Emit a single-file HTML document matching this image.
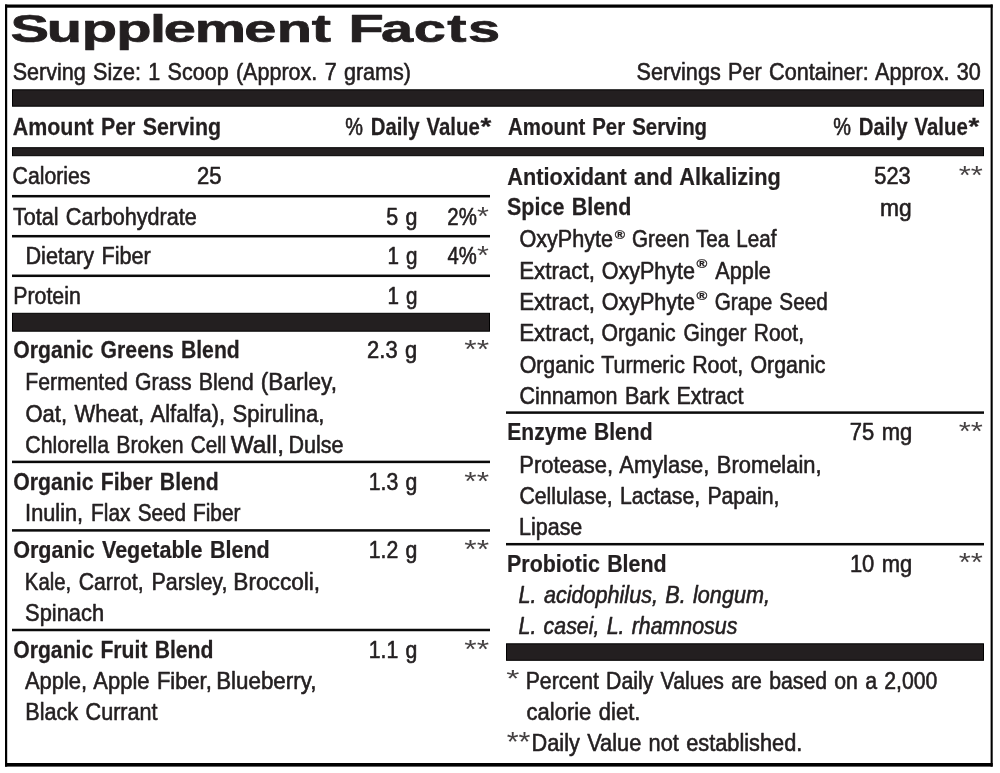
<!DOCTYPE html>
<html lang="en">
<head>
<meta charset="utf-8">
<title>Supplement Facts</title>
<style>
html,body{margin:0;padding:0;background:#fff;}
body{width:1000px;height:773px;overflow:hidden;font-family:"Liberation Sans", sans-serif;}
svg{display:block;}
text{font-family:"Liberation Sans", sans-serif;fill:#231f20;white-space:pre;}
</style>
</head>
<body>
<svg width="1000" height="773" viewBox="0 0 1000 773" role="img" aria-label="Supplement Facts">
<g fill="#000">
<rect x="5" y="4.5" width="987.7" height="3.2"/>
<rect x="5" y="763" width="987.7" height="3.6"/>
<rect x="5" y="4.5" width="2.2" height="762.1"/>
<rect x="990.6" y="4.5" width="2.1" height="762.1"/>
</g>
<g fill="#231f20" stroke="#000" stroke-width="1">
<rect x="12.5" y="89.8" width="971" height="16.4"/>
<rect x="12.5" y="147.7" width="971" height="8"/>
<rect x="12.5" y="313.3" width="477" height="17.9"/>
<rect x="506.5" y="643.8" width="477" height="16.5"/>
</g>
<g fill="#0a0a0a">
<rect x="12" y="194.95" width="478" height="2.5"/>
<rect x="12" y="234.95" width="478" height="2.5"/>
<rect x="12" y="274.55" width="478" height="2.5"/>
<rect x="12" y="460.65" width="478" height="2.5"/>
<rect x="12" y="529.15" width="478" height="2.5"/>
<rect x="12" y="628.75" width="478" height="2.5"/>
<rect x="506" y="411.35" width="478" height="2.5"/>
<rect x="506" y="542.95" width="478" height="2.5"/>
</g>

<g id="t" style="filter:blur(0.35px)">
<text transform="translate(0 42.30) scale(1.5000 1)" x="232.29 254.09 275.79 298.13 312.04" font-size="38.5" font-weight="700" stroke="#231f20" stroke-width="0.7" stroke-linejoin="round">Facts</text>
<text transform="translate(0 42.30) scale(1.5000 1)" x="6.96 31.24 54.45 77.45 99.95 109.19 129.82 162.83 184.56 207.90" font-size="38.5" font-weight="700" stroke="#231f20" stroke-width="0.7" stroke-linejoin="round">Supplement</text>
<text transform="translate(12.73 79.50) scale(0.8973 1.0000)" font-size="24.0" font-weight="400" stroke="#231f20" stroke-width="0.6" stroke-linejoin="round" word-spacing="1.5">Serving Size: 1 Scoop (Approx. 7 grams)</text>
<text transform="translate(636.62 79.50) scale(0.9014 1.0000)" font-size="24.0" font-weight="400" stroke="#231f20" stroke-width="0.6" stroke-linejoin="round" word-spacing="1.5">Servings Per Container: Approx. 30</text>
<text transform="translate(12.75 134.80) scale(0.8923 1.0000)" font-size="24.0" font-weight="400" stroke="#231f20" stroke-width="0.6" stroke-linejoin="round" word-spacing="1.5"><tspan font-weight="700" stroke-width="0.25">Amount Per Serving</tspan></text>
<text transform="translate(345.19 134.80) scale(0.8296 1.0000)" font-size="24.0" font-weight="400" stroke="#231f20" stroke-width="0.6" stroke-linejoin="round" word-spacing="1.5">%</text>
<text transform="translate(370.72 134.80) scale(0.8508 1.0000)" font-size="24.0" font-weight="400" stroke="#231f20" stroke-width="0.6" stroke-linejoin="round" word-spacing="1.5"><tspan font-weight="700" stroke-width="0.25">Daily Value</tspan></text>
<text transform="translate(480.50 135.27) scale(1.1568 1.0222)" font-size="24.0" font-weight="400" stroke="#231f20" stroke-width="0.6" stroke-linejoin="round" word-spacing="1.5"><tspan font-weight="700" stroke-width="0.25">*</tspan></text>
<text transform="translate(508.07 134.80) scale(0.8522 1.0000)" font-size="24.0" font-weight="400" stroke="#231f20" stroke-width="0.6" stroke-linejoin="round" word-spacing="1.5"><tspan font-weight="700" stroke-width="0.25">Amount Per Serving</tspan></text>
<text transform="translate(833.19 134.80) scale(0.8296 1.0000)" font-size="24.0" font-weight="400" stroke="#231f20" stroke-width="0.6" stroke-linejoin="round" word-spacing="1.5">%</text>
<text transform="translate(858.72 134.80) scale(0.8508 1.0000)" font-size="24.0" font-weight="400" stroke="#231f20" stroke-width="0.6" stroke-linejoin="round" word-spacing="1.5"><tspan font-weight="700" stroke-width="0.25">Daily Value</tspan></text>
<text transform="translate(968.50 135.27) scale(1.1568 1.0222)" font-size="24.0" font-weight="400" stroke="#231f20" stroke-width="0.6" stroke-linejoin="round" word-spacing="1.5"><tspan font-weight="700" stroke-width="0.25">*</tspan></text>
<text transform="translate(12.62 184.20) scale(0.8844 1.0000)" font-size="24.0" font-weight="400" stroke="#231f20" stroke-width="0.6" stroke-linejoin="round" word-spacing="1.5">Calories</text>
<text transform="translate(197.08 184.20) scale(0.9200 1.0000)" font-size="24.0" font-weight="400" stroke="#231f20" stroke-width="0.6" stroke-linejoin="round" word-spacing="1.5">25</text>
<text transform="translate(12.88 224.50) scale(0.8999 1.0000)" font-size="24.0" font-weight="400" stroke="#231f20" stroke-width="0.6" stroke-linejoin="round" word-spacing="1.5">Total Carbohydrate</text>
<text transform="translate(386.33 224.50) scale(0.8931 1.0000)" font-size="24.0" font-weight="400" stroke="#231f20" stroke-width="0.6" stroke-linejoin="round" word-spacing="1.5">5 g</text>
<text transform="translate(447.35 224.50) scale(0.8511 1.0000)" font-size="24.0" font-weight="400" stroke="#231f20" stroke-width="0.6" stroke-linejoin="round" word-spacing="1.5">2%</text>
<text transform="translate(476.96 224.90) scale(1.2706 1.0909)" font-size="24.0" font-weight="400" fill-opacity="0.85" word-spacing="1.5">*</text>
<text transform="translate(25.42 264.10) scale(0.9029 1.0000)" font-size="24.0" font-weight="400" stroke="#231f20" stroke-width="0.6" stroke-linejoin="round" word-spacing="1.5">Dietary Fiber</text>
<text transform="translate(387.46 263.80) scale(0.8594 1.0000)" font-size="24.0" font-weight="400" stroke="#231f20" stroke-width="0.6" stroke-linejoin="round" word-spacing="1.5">1 g</text>
<text transform="translate(447.59 263.80) scale(0.8441 1.0000)" font-size="24.0" font-weight="400" stroke="#231f20" stroke-width="0.6" stroke-linejoin="round" word-spacing="1.5">4%</text>
<text transform="translate(476.96 264.20) scale(1.2706 1.0909)" font-size="24.0" font-weight="400" fill-opacity="0.85" word-spacing="1.5">*</text>
<text transform="translate(13.25 304.40) scale(0.8877 1.0000)" font-size="24.0" font-weight="400" stroke="#231f20" stroke-width="0.6" stroke-linejoin="round" word-spacing="1.5">Protein</text>
<text transform="translate(387.46 304.20) scale(0.8594 1.0000)" font-size="24.0" font-weight="400" stroke="#231f20" stroke-width="0.6" stroke-linejoin="round" word-spacing="1.5">1 g</text>
<text transform="translate(13.22 357.90) scale(0.8843 1.0000)" font-size="24.0" font-weight="400" stroke="#231f20" stroke-width="0.6" stroke-linejoin="round" word-spacing="1.5"><tspan font-weight="700" stroke-width="0.25">Organic Greens Blend</tspan></text>
<text transform="translate(367.09 357.90) scale(0.9147 1.0000)" font-size="24.0" font-weight="400" stroke="#231f20" stroke-width="0.6" stroke-linejoin="round" word-spacing="1.5">2.3 g</text>
<text transform="translate(464.34 358.30) scale(1.3239 1.0909)" font-size="24.0" font-weight="400" fill-opacity="0.85" word-spacing="1.5">**</text>
<text transform="translate(25.35 389.80) scale(0.8839 1.0000)" font-size="24.0" font-weight="400" stroke="#231f20" stroke-width="0.6" stroke-linejoin="round" word-spacing="1.5">Fermented Grass</text>
<text transform="translate(198.74 389.80) scale(0.8940 1.0000)" font-size="24.0" font-weight="400" stroke="#231f20" stroke-width="0.6" stroke-linejoin="round" word-spacing="1.5">Blend</text>
<text transform="translate(260.82 389.80) scale(0.9415 1.0000)" font-size="24.0" font-weight="400" stroke="#231f20" stroke-width="0.6" stroke-linejoin="round" word-spacing="1.5">(Barley,</text>
<text transform="translate(25.41 421.85) scale(0.9179 1.0000)" font-size="24.0" font-weight="400" stroke="#231f20" stroke-width="0.6" stroke-linejoin="round" word-spacing="1.5">Oat, Wheat, Alfalfa), Spirulina,</text>
<text transform="translate(25.32 453.10) scale(0.8849 1.0000)" font-size="24.0" font-weight="400" stroke="#231f20" stroke-width="0.6" stroke-linejoin="round" word-spacing="1.5">Chlorella Broken</text>
<text transform="translate(190.84 453.10) scale(0.8590 1.0000)" font-size="24.0" font-weight="400" stroke="#231f20" stroke-width="0.6" stroke-linejoin="round" word-spacing="1.5">Cell</text>
<text transform="translate(230.75 453.10) scale(1.0148 1.0000)" font-size="24.0" font-weight="400" stroke="#231f20" stroke-width="0.6" stroke-linejoin="round" word-spacing="1.5">Wall,</text>
<text transform="translate(288.43 453.10) scale(0.8970 1.0000)" font-size="24.0" font-weight="400" stroke="#231f20" stroke-width="0.6" stroke-linejoin="round" word-spacing="1.5">Dulse</text>
<text transform="translate(13.22 490.10) scale(0.8849 1.0000)" font-size="24.0" font-weight="400" stroke="#231f20" stroke-width="0.6" stroke-linejoin="round" word-spacing="1.5"><tspan font-weight="700" stroke-width="0.25">Organic Fiber Blend</tspan></text>
<text transform="translate(368.67 490.00) scale(0.8852 1.0000)" font-size="24.0" font-weight="400" stroke="#231f20" stroke-width="0.6" stroke-linejoin="round" word-spacing="1.5">1.3 g</text>
<text transform="translate(464.34 490.40) scale(1.3239 1.0909)" font-size="24.0" font-weight="400" fill-opacity="0.85" word-spacing="1.5">**</text>
<text transform="translate(25.09 521.00) scale(0.9062 1.0000)" font-size="24.0" font-weight="400" stroke="#231f20" stroke-width="0.6" stroke-linejoin="round" word-spacing="1.5">Inulin,</text>
<text transform="translate(91.08 521.00) scale(0.8690 1.0000)" font-size="24.0" font-weight="400" stroke="#231f20" stroke-width="0.6" stroke-linejoin="round" word-spacing="1.5">Flax</text>
<text transform="translate(137.65 521.00) scale(0.8648 1.0000)" font-size="24.0" font-weight="400" stroke="#231f20" stroke-width="0.6" stroke-linejoin="round" word-spacing="1.5">Seed</text>
<text transform="translate(192.98 521.00) scale(0.8701 1.0000)" font-size="24.0" font-weight="400" stroke="#231f20" stroke-width="0.6" stroke-linejoin="round" word-spacing="1.5">Fiber</text>
<text transform="translate(13.20 557.60) scale(0.8985 1.0000)" font-size="24.0" font-weight="400" stroke="#231f20" stroke-width="0.6" stroke-linejoin="round" word-spacing="1.5"><tspan font-weight="700" stroke-width="0.25">Organic Vegetable Blend</tspan></text>
<text transform="translate(368.67 557.60) scale(0.8852 1.0000)" font-size="24.0" font-weight="400" stroke="#231f20" stroke-width="0.6" stroke-linejoin="round" word-spacing="1.5">1.2 g</text>
<text transform="translate(464.34 558.00) scale(1.3239 1.0909)" font-size="24.0" font-weight="400" fill-opacity="0.85" word-spacing="1.5">**</text>
<text transform="translate(24.82 590.00) scale(0.8471 1.0000)" font-size="24.0" font-weight="400" stroke="#231f20" stroke-width="0.6" stroke-linejoin="round" word-spacing="1.5">Kale,</text>
<text transform="translate(78.71 590.00) scale(0.8851 1.0000)" font-size="24.0" font-weight="400" stroke="#231f20" stroke-width="0.6" stroke-linejoin="round" word-spacing="1.5">Carrot,</text>
<text transform="translate(151.43 590.00) scale(0.8960 1.0000)" font-size="24.0" font-weight="400" stroke="#231f20" stroke-width="0.6" stroke-linejoin="round" word-spacing="1.5">Parsley,</text>
<text transform="translate(233.35 590.00) scale(0.9435 1.0000)" font-size="24.0" font-weight="400" stroke="#231f20" stroke-width="0.6" stroke-linejoin="round" word-spacing="1.5">Broccoli,</text>
<text transform="translate(25.12 620.60) scale(0.9109 1.0000)" font-size="24.0" font-weight="400" stroke="#231f20" stroke-width="0.6" stroke-linejoin="round" word-spacing="1.5">Spinach</text>
<text transform="translate(13.22 657.90) scale(0.8824 1.0000)" font-size="24.0" font-weight="400" stroke="#231f20" stroke-width="0.6" stroke-linejoin="round" word-spacing="1.5"><tspan font-weight="700" stroke-width="0.25">Organic Fruit Blend</tspan></text>
<text transform="translate(368.67 657.80) scale(0.8852 1.0000)" font-size="24.0" font-weight="400" stroke="#231f20" stroke-width="0.6" stroke-linejoin="round" word-spacing="1.5">1.1 g</text>
<text transform="translate(464.34 658.20) scale(1.3239 1.0909)" font-size="24.0" font-weight="400" fill-opacity="0.85" word-spacing="1.5">**</text>
<text transform="translate(24.93 689.40) scale(0.9139 1.0000)" font-size="24.0" font-weight="400" stroke="#231f20" stroke-width="0.6" stroke-linejoin="round" word-spacing="1.5">Apple, Apple Fiber,</text>
<text transform="translate(216.17 689.40) scale(0.9327 1.0000)" font-size="24.0" font-weight="400" stroke="#231f20" stroke-width="0.6" stroke-linejoin="round" word-spacing="1.5">Blueberry,</text>
<text transform="translate(25.32 719.80) scale(0.9012 1.0000)" font-size="24.0" font-weight="400" stroke="#231f20" stroke-width="0.6" stroke-linejoin="round" word-spacing="1.5">Black Currant</text>
<text transform="translate(507.25 184.50) scale(0.9060 1.0000)" font-size="24.0" font-weight="400" stroke="#231f20" stroke-width="0.6" stroke-linejoin="round" word-spacing="1.5"><tspan font-weight="700" stroke-width="0.25">Antioxidant and Alkalizing</tspan></text>
<text transform="translate(874.32 184.40) scale(0.9091 1.0000)" font-size="24.0" font-weight="400" stroke="#231f20" stroke-width="0.6" stroke-linejoin="round" word-spacing="1.5">523</text>
<text transform="translate(958.65 183.80) scale(1.2901 1.0909)" font-size="24.0" font-weight="400" fill-opacity="0.85" word-spacing="1.5">**</text>
<text transform="translate(507.03 215.20) scale(0.8960 1.0000)" font-size="24.0" font-weight="400" stroke="#231f20" stroke-width="0.6" stroke-linejoin="round" word-spacing="1.5"><tspan font-weight="700" stroke-width="0.25">Spice Blend</tspan></text>
<text transform="translate(880.06 215.80) scale(0.9512 1.0000)" font-size="24.0" font-weight="400" stroke="#231f20" stroke-width="0.6" stroke-linejoin="round" word-spacing="1.5">mg</text>
<text transform="translate(519.42 246.70) scale(0.9005 1.0000)" font-size="24.0" font-weight="400" stroke="#231f20" stroke-width="0.6" stroke-linejoin="round" word-spacing="1.5">OxyPhyte</text>
<text transform="translate(614.80 238.76) scale(1.0359 0.9538)" font-size="13.5" font-weight="700" stroke="#231f20" stroke-width="0.6" stroke-linejoin="round" word-spacing="1.5"><tspan font-weight="700" stroke-width="0.25">®</tspan></text>
<text transform="translate(632.04 246.70) scale(0.8604 1.0000)" font-size="24.0" font-weight="400" stroke="#231f20" stroke-width="0.6" stroke-linejoin="round" word-spacing="1.5">Green Tea Leaf</text>
<text transform="translate(519.17 278.80) scale(0.9312 1.0000)" font-size="24.0" font-weight="400" stroke="#231f20" stroke-width="0.6" stroke-linejoin="round" word-spacing="1.5">Extract,</text>
<text transform="translate(601.63 278.80) scale(0.8976 1.0000)" font-size="24.0" font-weight="400" stroke="#231f20" stroke-width="0.6" stroke-linejoin="round" word-spacing="1.5">OxyPhyte</text>
<text transform="translate(696.50 267.85) scale(1.0872 1.0051)" font-size="13.5" font-weight="700" stroke="#231f20" stroke-width="0.6" stroke-linejoin="round" word-spacing="1.5"><tspan font-weight="700" stroke-width="0.25">®</tspan></text>
<text transform="translate(715.33 278.80) scale(0.9037 1.0000)" font-size="24.0" font-weight="400" stroke="#231f20" stroke-width="0.6" stroke-linejoin="round" word-spacing="1.5">Apple</text>
<text transform="translate(519.17 310.00) scale(0.9312 1.0000)" font-size="24.0" font-weight="400" stroke="#231f20" stroke-width="0.6" stroke-linejoin="round" word-spacing="1.5">Extract,</text>
<text transform="translate(601.63 310.00) scale(0.8976 1.0000)" font-size="24.0" font-weight="400" stroke="#231f20" stroke-width="0.6" stroke-linejoin="round" word-spacing="1.5">OxyPhyte</text>
<text transform="translate(696.50 299.75) scale(1.0872 0.9846)" font-size="13.5" font-weight="700" stroke="#231f20" stroke-width="0.6" stroke-linejoin="round" word-spacing="1.5"><tspan font-weight="700" stroke-width="0.25">®</tspan></text>
<text transform="translate(714.74 310.00) scale(0.8629 1.0000)" font-size="24.0" font-weight="400" stroke="#231f20" stroke-width="0.6" stroke-linejoin="round" word-spacing="1.5">Grape Seed</text>
<text transform="translate(519.17 341.35) scale(0.9338 1.0000)" font-size="24.0" font-weight="400" stroke="#231f20" stroke-width="0.6" stroke-linejoin="round" word-spacing="1.5">Extract,</text>
<text transform="translate(601.54 341.35) scale(0.8831 1.0000)" font-size="24.0" font-weight="400" stroke="#231f20" stroke-width="0.6" stroke-linejoin="round" word-spacing="1.5">Organic</text>
<text transform="translate(683.52 341.35) scale(0.8764 1.0000)" font-size="24.0" font-weight="400" stroke="#231f20" stroke-width="0.6" stroke-linejoin="round" word-spacing="1.5">Ginger Root,</text>
<text transform="translate(519.63 372.50) scale(0.8909 1.0000)" font-size="24.0" font-weight="400" stroke="#231f20" stroke-width="0.6" stroke-linejoin="round" word-spacing="1.5">Organic Turmeric Root, Organic</text>
<text transform="translate(519.40 403.75) scale(0.8976 1.0000)" font-size="24.0" font-weight="400" stroke="#231f20" stroke-width="0.6" stroke-linejoin="round" word-spacing="1.5">Cinnamon Bark Extract</text>
<text transform="translate(507.28 440.10) scale(0.8778 1.0000)" font-size="24.0" font-weight="400" stroke="#231f20" stroke-width="0.6" stroke-linejoin="round" word-spacing="1.5"><tspan font-weight="700" stroke-width="0.25">Enzyme Blend</tspan></text>
<text transform="translate(849.83 440.10) scale(0.9167 1.0000)" font-size="24.0" font-weight="400" stroke="#231f20" stroke-width="0.6" stroke-linejoin="round" word-spacing="1.5">75 mg</text>
<text transform="translate(958.65 439.50) scale(1.2901 1.0909)" font-size="24.0" font-weight="400" fill-opacity="0.85" word-spacing="1.5">**</text>
<text transform="translate(519.30 472.90) scale(0.9133 1.0000)" font-size="24.0" font-weight="400" stroke="#231f20" stroke-width="0.6" stroke-linejoin="round" word-spacing="1.5">Protease, Amylase, Bromelain,</text>
<text transform="translate(519.42 504.10) scale(0.8849 1.0000)" font-size="24.0" font-weight="400" stroke="#231f20" stroke-width="0.6" stroke-linejoin="round" word-spacing="1.5">Cellulase, Lactase, Papain,</text>
<text transform="translate(519.03 534.90) scale(0.8952 1.0000)" font-size="24.0" font-weight="400" stroke="#231f20" stroke-width="0.6" stroke-linejoin="round" word-spacing="1.5">Lipase</text>
<text transform="translate(507.06 571.80) scale(0.8927 1.0000)" font-size="24.0" font-weight="400" stroke="#231f20" stroke-width="0.6" stroke-linejoin="round" word-spacing="1.5"><tspan font-weight="700" stroke-width="0.25">Probiotic Blend</tspan></text>
<text transform="translate(849.88 571.90) scale(0.9160 1.0000)" font-size="24.0" font-weight="400" stroke="#231f20" stroke-width="0.6" stroke-linejoin="round" word-spacing="1.5">10 mg</text>
<text transform="translate(958.65 571.30) scale(1.2901 1.0909)" font-size="24.0" font-weight="400" fill-opacity="0.85" word-spacing="1.5">**</text>
<text transform="translate(518.55 602.90) scale(0.8999 1.0000)" font-size="24.0" font-weight="400" stroke="#231f20" stroke-width="0.6" stroke-linejoin="round" word-spacing="1.5"><tspan font-style="italic">L. acidophilus, B. longum,</tspan></text>
<text transform="translate(518.55 633.90) scale(0.8901 1.0000)" font-size="24.0" font-weight="400" stroke="#231f20" stroke-width="0.6" stroke-linejoin="round" word-spacing="1.5"><tspan font-style="italic">L. casei, L. rhamnosus</tspan></text>
<text transform="translate(506.29 687.30) scale(1.4118 1.0182)" font-size="24.0" font-weight="400" fill-opacity="0.85" word-spacing="1.5">*</text>
<text transform="translate(525.65 688.90) scale(0.8861 1.0000)" font-size="24.0" font-weight="400" stroke="#231f20" stroke-width="0.6" stroke-linejoin="round" word-spacing="1.5">Percent Daily Values are based on a 2,000</text>
<text transform="translate(526.51 719.80) scale(0.9181 1.0000)" font-size="24.0" font-weight="400" stroke="#231f20" stroke-width="0.6" stroke-linejoin="round" word-spacing="1.5">calorie diet.</text>
<text transform="translate(506.66 751.10) scale(1.2789 1.1758)" font-size="24.0" font-weight="400" fill-opacity="0.85" word-spacing="1.5">**</text>
<text transform="translate(531.51 750.80) scale(0.9064 1.0000)" font-size="24.0" font-weight="400" stroke="#231f20" stroke-width="0.6" stroke-linejoin="round" word-spacing="1.5">Daily Value not established.</text>
</g>
</svg>
</body>
</html>
